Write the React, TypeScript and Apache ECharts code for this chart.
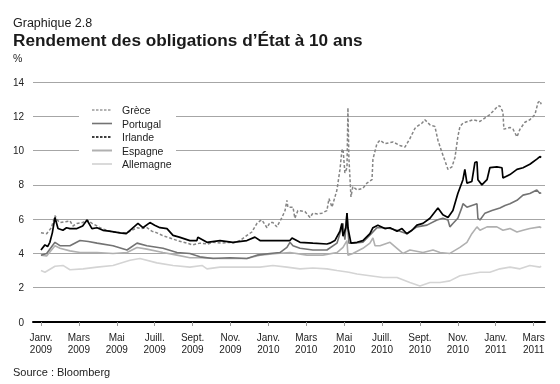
import React, { useEffect, useRef } from "react";
import * as echarts from "echarts";

// x values: months since January 2009 (0 = Janv. 2009)
const tickMonths = [0, 2, 4, 6, 8, 10, 12, 14, 16, 18, 20, 22, 24, 26];
const tickLabels = [
  "Janv.\n2009", "Mars\n2009", "Mai\n2009", "Juill.\n2009", "Sept.\n2009", "Nov.\n2009",
  "Janv.\n2010", "Mars\n2010", "Mai\n2010", "Juill.\n2010", "Sept.\n2010", "Nov.\n2010",
  "Janv.\n2011", "Mars\n2011",
];

const greece: [number, number][] = [
  [0, 5.2], [0.3, 5.15], [0.55, 5.5], [0.74, 6.2], [0.9, 5.9], [1.0, 5.8], [1.3, 5.85], [1.53, 5.9],
  [1.69, 5.6], [1.9, 5.75], [2.2, 5.8], [2.43, 5.95], [2.7, 5.75], [2.96, 5.6], [3.2, 5.45], [3.48, 5.35],
  [3.8, 5.25], [4.17, 5.2], [4.54, 5.2], [4.8, 5.35], [5.07, 5.5], [5.3, 5.45], [5.59, 5.5], [5.85, 5.3],
  [6.12, 5.2], [6.4, 5.05], [6.81, 4.9], [7.2, 4.75], [7.7, 4.6], [8.0, 4.5], [8.4, 4.6], [8.8, 4.55],
  [9.08, 4.65], [9.5, 4.6], [9.97, 4.65], [10.13, 4.6], [10.5, 4.75], [10.87, 5.05], [11.13, 5.25],
  [11.4, 5.75], [11.56, 5.9], [11.66, 5.95], [11.93, 5.5], [12.08, 5.8], [12.24, 5.8], [12.45, 5.55],
  [12.72, 6.1], [12.88, 6.5], [12.98, 7.1], [13.03, 6.7], [13.3, 6.7], [13.4, 6.05], [13.56, 6.5],
  [13.93, 6.45], [14.2, 6.1], [14.35, 6.35], [14.6, 6.3], [14.83, 6.35], [15.09, 6.5], [15.2, 7.2],
  [15.36, 6.7], [15.62, 7.7], [15.78, 8.9], [15.88, 10.0], [15.94, 10.1], [16.04, 8.7], [16.15, 9.0],
  [16.2, 12.5], [16.25, 9.6], [16.36, 7.3], [16.46, 7.9], [16.68, 7.7], [16.99, 7.8], [17.2, 8.1],
  [17.47, 8.3], [17.52, 9.5], [17.73, 10.4], [17.89, 10.6], [18.15, 10.4], [18.58, 10.5], [18.94, 10.3],
  [19.21, 10.2], [19.47, 10.7], [19.74, 11.3], [19.84, 11.4], [20.11, 11.6], [20.26, 11.8], [20.53, 11.5],
  [20.79, 11.4], [20.95, 10.6], [21.16, 9.9], [21.32, 9.4], [21.48, 8.9], [21.69, 9.05], [21.85, 9.6],
  [22.0, 10.8], [22.11, 11.4], [22.27, 11.6], [22.8, 11.8], [23.17, 11.7], [23.69, 12.1], [24.12, 12.6],
  [24.22, 12.6], [24.38, 12.25], [24.43, 11.25], [24.75, 11.35], [24.91, 11.25], [25.12, 10.8],
  [25.28, 11.25], [25.54, 11.65], [25.8, 11.8], [26.07, 12.1], [26.23, 12.8], [26.33, 12.9], [26.4, 12.7],
];

const portugal: [number, number][] = [
  [0, 3.9], [0.3, 4.0], [0.74, 4.65], [1.0, 4.45], [1.53, 4.45], [2.06, 4.75], [2.5, 4.7], [2.96, 4.6],
  [3.8, 4.45], [4.54, 4.2], [5.07, 4.6], [5.59, 4.45], [6.44, 4.3], [7.18, 4.05], [7.86, 4.0], [8.39, 3.8],
  [9.08, 3.7], [9.97, 3.75], [10.87, 3.7], [11.4, 3.9], [12.08, 4.0], [12.61, 4.05], [12.98, 4.35],
  [13.14, 4.65], [13.3, 4.45], [13.67, 4.3], [14.35, 4.2], [15.09, 4.2], [15.62, 4.6], [15.94, 5.75],
  [16.04, 4.8], [16.15, 6.35], [16.25, 4.6], [16.46, 4.6], [16.99, 4.65], [17.47, 5.2], [17.73, 5.5],
  [18.05, 5.5], [18.42, 5.45], [18.79, 5.35], [19.31, 5.15], [19.84, 5.55], [20.37, 5.65], [20.9, 5.95],
  [21.21, 6.05], [21.48, 5.95], [21.58, 5.55], [21.74, 5.75], [22.0, 6.05], [22.22, 6.7], [22.27, 6.9],
  [22.48, 6.7], [22.74, 6.8], [23.01, 6.9], [23.06, 6.05], [23.17, 5.95], [23.43, 6.35], [23.8, 6.5],
  [24.22, 6.65], [24.49, 6.8], [24.75, 6.9], [25.12, 7.1], [25.44, 7.4], [25.8, 7.5], [26.17, 7.7],
  [26.33, 7.5], [26.4, 7.55],
];

const ireland: [number, number][] = [
  [0, 4.2], [0.21, 4.5], [0.35, 4.4], [0.47, 4.65], [0.6, 5.2], [0.74, 6.1], [0.9, 5.45], [1.16, 5.35],
  [1.35, 5.5], [1.53, 5.45], [1.9, 5.45], [2.2, 5.6], [2.43, 5.95], [2.69, 5.45], [2.96, 5.5], [3.27, 5.35],
  [3.6, 5.3], [4.17, 5.2], [4.5, 5.15], [4.7, 5.35], [5.12, 5.75], [5.38, 5.5], [5.75, 5.8], [6.0, 5.65],
  [6.28, 5.5], [6.65, 5.45], [6.97, 5.05], [7.3, 4.95], [7.86, 4.75], [8.23, 4.75], [8.28, 4.95],
  [8.76, 4.65], [9.45, 4.75], [10.13, 4.65], [10.87, 4.75], [11.29, 4.95], [11.56, 4.75], [12.61, 4.75],
  [13.14, 4.75], [13.25, 4.9], [13.67, 4.65], [14.35, 4.6], [15.09, 4.55], [15.25, 4.6], [15.51, 4.75],
  [15.78, 5.3], [15.88, 5.75], [15.94, 5.0], [16.09, 5.5], [16.15, 6.35], [16.2, 5.5], [16.36, 4.6],
  [16.68, 4.65], [16.99, 4.75], [17.36, 5.15], [17.52, 5.5], [17.78, 5.65], [18.15, 5.45], [18.42, 5.5],
  [18.79, 5.3], [19.05, 5.45], [19.31, 5.15], [19.58, 5.35], [19.84, 5.65], [20.16, 5.75], [20.53, 6.05],
  [20.95, 6.65], [21.21, 6.25], [21.48, 6.1], [21.74, 6.5], [22.0, 7.5], [22.27, 8.3], [22.37, 8.9],
  [22.48, 8.1], [22.74, 8.2], [22.9, 9.3], [23.01, 9.35], [23.06, 8.3], [23.27, 8.0], [23.54, 8.3],
  [23.69, 9.0], [24.06, 9.05], [24.33, 9.0], [24.38, 8.4], [24.75, 8.6], [25.12, 8.9], [25.44, 9.0],
  [25.8, 9.2], [26.17, 9.5], [26.33, 9.65], [26.4, 9.6],
];

const spain: [number, number][] = [
  [0, 3.9], [0.3, 3.85], [0.74, 4.45], [1.0, 4.3], [1.53, 4.15], [2.06, 4.05], [2.96, 4.05], [3.8, 4.0],
  [4.54, 4.05], [5.07, 4.35], [5.59, 4.25], [6.44, 4.05], [7.18, 3.9], [7.86, 3.75], [8.39, 3.75],
  [9.45, 3.7], [10.87, 3.7], [11.56, 3.9], [12.45, 4.0], [13.14, 4.05], [14.04, 3.9], [14.88, 3.9],
  [15.62, 4.05], [15.94, 4.35], [16.15, 4.75], [16.2, 3.9], [16.46, 4.0], [16.99, 4.3], [17.36, 4.6],
  [17.52, 4.9], [17.63, 4.45], [17.89, 4.45], [18.42, 4.65], [18.79, 4.3], [19.1, 4.0], [19.47, 4.2],
  [20.16, 4.05], [20.69, 4.2], [21.06, 4.05], [21.58, 4.0], [22.11, 4.35], [22.48, 4.65], [22.74, 5.15],
  [23.01, 5.55], [23.17, 5.35], [23.54, 5.55], [24.06, 5.55], [24.38, 5.35], [24.75, 5.45], [25.12, 5.25],
  [25.44, 5.35], [25.8, 5.45], [26.33, 5.55], [26.4, 5.5],
];

const germany: [number, number][] = [
  [0, 3.0], [0.21, 2.9], [0.74, 3.25], [1.16, 3.3], [1.53, 3.05], [2.22, 3.1], [2.96, 3.2], [3.8, 3.3],
  [4.7, 3.6], [5.22, 3.7], [6.12, 3.45], [6.97, 3.3], [7.86, 3.2], [8.5, 3.3], [8.76, 3.1], [9.45, 3.2],
  [10.5, 3.2], [11.56, 3.2], [12.24, 3.3], [12.98, 3.2], [13.67, 3.1], [14.35, 3.15], [15.09, 3.1],
  [15.62, 3.0], [16.25, 2.9], [16.68, 2.8], [17.36, 2.7], [18.05, 2.6], [18.79, 2.6], [19.47, 2.3],
  [20.0, 2.1], [20.53, 2.3], [21.06, 2.3], [21.58, 2.4], [22.11, 2.7], [22.64, 2.8], [23.17, 2.9],
  [23.69, 2.9], [24.22, 3.1], [24.75, 3.2], [25.28, 3.1], [25.8, 3.3], [26.33, 3.2], [26.4, 3.25],
];

const legendNames = ["Grèce", "Portugal", "Irlande", "Espagne", "Allemagne"];

const FONT = "'Liberation Sans', Arial, Helvetica, sans-serif";

const styles: Record<string, { color: string; width: number; dash: number[] | null; legendColor: string; legendDash: number[] | null; legendWidth: number }> = {
  "Grèce": { color: "#858585", width: 1.5, dash: [3, 2], legendColor: "#9a9a9a", legendDash: [2.5, 1.5], legendWidth: 1.3 },
  Portugal: { color: "#737373", width: 1.6, dash: null, legendColor: "#737373", legendDash: null, legendWidth: 1.6 },
  Irlande: { color: "#000000", width: 1.7, dash: null, legendColor: "#000000", legendDash: [2.5, 1.5], legendWidth: 1.6 },
  Espagne: { color: "#b0b0b0", width: 1.6, dash: null, legendColor: "#b0b0b0", legendDash: null, legendWidth: 2 },
  Allemagne: { color: "#d4d4d4", width: 1.6, dash: null, legendColor: "#dadada", legendDash: null, legendWidth: 2 },
};

export default function App() {
  const ref = useRef<HTMLDivElement>(null);
  useEffect(() => {
    if (!ref.current) return;
    const chart = echarts.init(ref.current, undefined, { renderer: "svg" });
    const line = (name: string, data: [number, number][]) => {
      const s = styles[name];
      return {
        name,
        type: "line",
        data,
        symbol: "none",
        showSymbol: false,
        lineStyle: { color: s.color, width: s.width, type: s.dash ?? "solid" },
        itemStyle: { color: s.color },
        emphasis: { disabled: true },
      };
    };
    const legendX = 92;
    const legendY0 = 110;
    const legendStep = 13.5;
    const legendGraphics: any[] = [
      { type: "rect", shape: { x: 79, y: 101, width: 97, height: 71 }, style: { fill: "#fff" }, z: 5 },
    ];
    legendNames.forEach((n, i) => {
      const s = styles[n];
      const y = legendY0 + i * legendStep;
      legendGraphics.push({
        type: "line",
        z: 6,
        shape: { x1: legendX, y1: y, x2: legendX + 20, y2: y },
        style: { stroke: s.legendColor, lineWidth: s.legendWidth, lineDash: s.legendDash ?? undefined },
      });
      legendGraphics.push({
        type: "text",
        z: 6,
        x: legendX + 30,
        y,
        style: { text: n, font: `10.5px ${FONT}`, fill: "#222", verticalAlign: "middle" },
      });
    });
    chart.setOption({
      animation: false,
      textStyle: { fontFamily: FONT },
      grid: { left: 33, right: 15, top: 82, bottom: 62, containLabel: false },
      graphic: [
        { type: "text", x: 13, y: 23, style: { text: "Graphique 2.8", font: `12.5px ${FONT}`, fill: "#1a1a1a", verticalAlign: "middle" } },
        { type: "text", x: 13, y: 40, style: { text: "Rendement des obligations d’État à 10 ans", font: `bold 17.2px ${FONT}`, fill: "#1a1a1a", verticalAlign: "middle" } },
        { type: "text", x: 13, y: 58, style: { text: "%", font: `10.5px ${FONT}`, fill: "#222", verticalAlign: "middle" } },
        { type: "text", x: 13, y: 372, style: { text: "Source : Bloomberg", font: `11px ${FONT}`, fill: "#222", verticalAlign: "middle" } },
        ...legendGraphics,
      ],
      xAxis: {
        type: "value",
        min: -0.42,
        max: 26.6,
        splitLine: { show: false },
        axisLine: { onZero: false, lineStyle: { color: "#000", width: 2 } },
        axisTick: { customValues: tickMonths, length: 4, lineStyle: { color: "#999" } },
        axisLabel: {
          customValues: tickMonths,
          formatter: (v: number) => tickLabels[Math.round(v / 2)] ?? "",
          fontSize: 10,
          lineHeight: 12,
          margin: 9,
          color: "#222",
          fontFamily: FONT,
        },
      },
      yAxis: {
        type: "value",
        min: 0,
        max: 14,
        interval: 2,
        axisLine: { show: false },
        axisTick: { show: false },
        axisLabel: { fontSize: 10, color: "#222", margin: 9, fontFamily: FONT },
        splitLine: { lineStyle: { color: "#a6a6a6", width: 1 } },
      },
      series: [
        line("Allemagne", germany),
        line("Espagne", spain),
        line("Portugal", portugal),
        line("Grèce", greece),
        line("Irlande", ireland),
      ],
    });
    return () => chart.dispose();
  }, []);
  return <div ref={ref} style={{ position: "fixed", left: 0, top: 0, width: 560, height: 384 }} />;
}
